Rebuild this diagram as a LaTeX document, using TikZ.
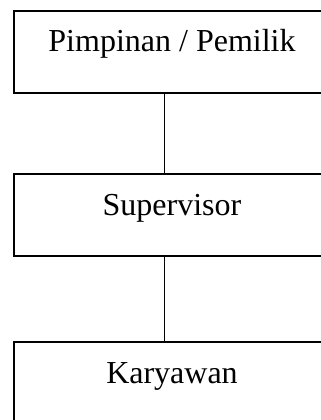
\documentclass[tikz,border=0pt]{standalone}
\usepackage{fontspec}
\setmainfont{Liberation Serif}
\tikzset{
  jabatan/.style={draw, line width=1.6pt, inner sep=0pt, minimum width=316pt,
    text height=41pt, text depth=41pt, anchor=base, font=\fontsize{32}{38}\selectfont},
  garis/.style={line width=0.9pt}
}

\begin{document}
\begin{tikzpicture}
\clip (0,0) rectangle (321pt,-420pt);
\node[jabatan] (pimpinan) at (172pt,-52pt) {Pimpinan / Pemilik};
\node[jabatan] (supervisor) at (172pt,-215pt) {Supervisor};
\node[jabatan] (karyawan) at (172pt,-383pt) {Karyawan};
\draw[garis] ([xshift=-8pt]pimpinan.south) -- ([xshift=-8pt]supervisor.north);
\draw[garis] ([xshift=-8pt]supervisor.south) -- ([xshift=-8pt]karyawan.north);
\end{tikzpicture}
\end{document}
